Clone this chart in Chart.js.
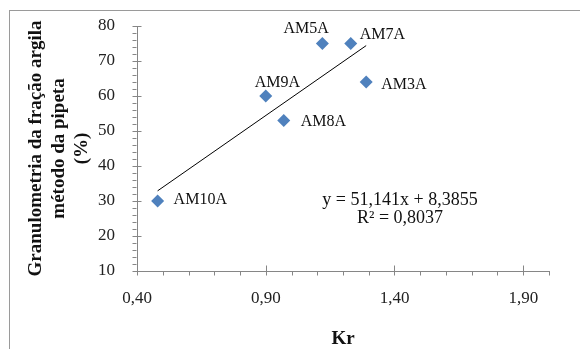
<!DOCTYPE html>
<html>
<head>
<meta charset="utf-8">
<script src="https://cdn.jsdelivr.net/npm/chart.js@4/dist/chart.umd.min.js"></script>
<style>
  body { margin: 0; background: #fff; }
</style>
</head>
<body>
<canvas id="grafico" width="580" height="349"></canvas>
<script>
// amostras e valores
const amostras = ['AM10A', 'AM9A', 'AM8A', 'AM5A', 'AM7A', 'AM3A'];
const kr = [0.48, 0.90, 0.97, 1.12, 1.23, 1.29];
const argila = [30, 60, 53, 75, 75, 64];

// linha de tendencia (extremos)
const tendX = [0.48, 1.29];
const tendY = [32.9, 74.4];

const xTickLabels = ['0,40', '0,90', '1,40', '1,90'];
const yTickLabels = ['10', '20', '30', '40', '50', '60', '70', '80'];

const equacao = ['y = 51,141x + 8,3855', 'R\u00b2 = 0,8037'];

// deslocamento dos rotulos em relacao ao ponto (dx, dy)
const posRotulos = [[16, -3], [-11, -15], [17, 0], [-39, -16], [9, -10], [15, 1]];

const serif = '"Liberation Serif", "Times New Roman", serif';
const corEixo = '#868686';

const ticksPlugin = {
    id: 'ticksPlugin',
    beforeDraw: (chart) => {
        const ctx = chart.ctx;
        ctx.save();
        ctx.fillStyle = '#fff';
        ctx.fillRect(0, 0, chart.width, chart.height);
        ctx.strokeStyle = '#9a9a9a';
        ctx.lineWidth = 1;
        ctx.strokeRect(9.5, 10.5, 800, 800);
        ctx.restore();
    },
    afterDraw: (chart) => {
        const { ctx, scales: { x, y } } = chart;
        ctx.save();
        ctx.strokeStyle = corEixo;
        ctx.lineWidth = 1;
        ctx.beginPath();
        const eixoX = Math.round(x.top) + 0.5;
        x.ticks.forEach((t, i) => {
            const px = Math.round(x.getPixelForTick(i)) + 0.5;
            const major = t.label !== '';
            ctx.moveTo(px, major ? eixoX - 6 : eixoX);
            ctx.lineTo(px, eixoX + 4);
        });
        const eixoY = Math.round(y.right) - 0.5;
        y.ticks.forEach((t, i) => {
            const py = Math.round(y.getPixelForTick(i)) + 0.5;
            const major = t.label !== '';
            ctx.moveTo(eixoY - 4, py);
            ctx.lineTo(major ? eixoY + 5 : eixoY, py);
        });
        ctx.stroke();

        // rotulos dos pontos
        ctx.fillStyle = '#111';
        ctx.font = '16px ' + serif;
        ctx.textAlign = 'left';
        ctx.textBaseline = 'alphabetic';
        const meta = chart.getDatasetMeta(0);
        meta.data.forEach((p, i) => {
            ctx.fillText(amostras[i], p.x + posRotulos[i][0], p.y + posRotulos[i][1] + 5.5);
        });

        // equacao da reta
        ctx.font = '18px ' + serif;
        ctx.textAlign = 'center';
        ctx.fillText(equacao[0], 400, 205);
        ctx.fillText(equacao[1], 400, 223);
        ctx.restore();
    }
};

const fmt = v => v.toFixed(2).replace('.', ',');

new Chart('grafico', {
    type: 'scatter',
    data: {
        datasets: [{
            label: 'Argila',
            data: kr.map((v, i) => ({ x: v, y: argila[i] })),
            pointStyle: 'rectRot',
            pointRadius: 6.5,
            backgroundColor: '#4F81BD',
            borderColor: '#4F81BD',
            borderWidth: 0
        }, {
            label: 'Tendencia',
            data: tendX.map((v, i) => ({ x: v, y: tendY[i] })),
            showLine: true,
            pointRadius: 0,
            borderColor: '#000',
            borderWidth: 1
        }]
    },
    options: {
        responsive: false,
        animation: false,
        layout: { padding: { left: 10, top: 26, right: 31, bottom: 0 } },
        plugins: { legend: { display: false }, tooltip: { enabled: false } },
        scales: {
            x: {
                type: 'linear',
                min: 0.4,
                max: 2.0,
                grid: { display: false },
                border: { color: corEixo },
                ticks: {
                    stepSize: 0.1,
                    autoSkip: false,
                    maxRotation: 0,
                    padding: 9,
                    color: '#222',
                    font: { family: serif, size: 17 },
                    callback: v => xTickLabels.includes(fmt(v)) ? fmt(v) : ''
                },
                title: {
                    display: true,
                    text: 'Kr',
                    color: '#111',
                    font: { family: serif, size: 19, weight: 'bold', lineHeight: 1 },
                    padding: 0
                },
                afterFit: (s) => { s.height = 78; }
            },
            y: {
                min: 10,
                max: 80,
                grid: { display: false },
                border: { color: corEixo },
                ticks: {
                    stepSize: 2,
                    autoSkip: false,
                    padding: 14,
                    color: '#222',
                    font: { family: serif, size: 17 },
                    callback: v => yTickLabels.includes(String(v)) ? String(v) : ''
                },
                title: {
                    display: true,
                    text: ['Granulometria da fração argila', 'método da pipeta', '(%)'],
                    color: '#111',
                    font: { family: serif, size: 19, weight: 'bold', lineHeight: 1.2 },
                    padding: { top: 15, bottom: 0 }
                },
                afterFit: (s) => { s.width = 127; }
            }
        }
    },
    plugins: [ticksPlugin]
});
</script>
</body>
</html>
